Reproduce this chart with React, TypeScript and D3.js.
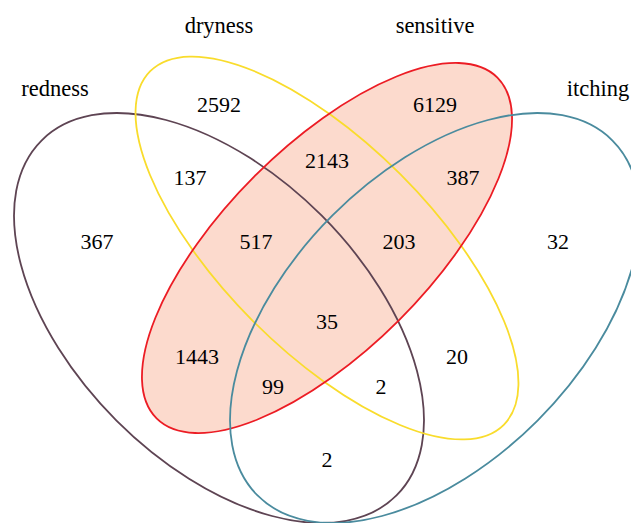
import React, { useEffect, useRef } from 'react';
import * as d3 from 'd3';

// set names and region counts
const setNames = ['redness', 'dryness', 'sensitive', 'itching'];
const setColors = ['#5e4453', '#f9dc2c', '#ec1c24', '#4a8b9e'];

// region keys are membership strings: r, d, s, i
const regionKeys = ['d', 's', 'rd', 'ds', 'si', 'r', 'rds', 'dsi', 'i', 'rdsi', 'rs', 'di', 'rsi', 'rdi', 'ri'];
const regionCounts = [2592, 6129, 137, 2143, 387, 367, 517, 203, 32, 35, 1443, 20, 99, 2, 2];

// layout (pixel space relative to the figure centre)
const ellipses = [
  { cx: -108, cy: 70, rx: 251, ry: 145, rot: 45 },
  { cx: 0, cy: 0, rx: 250, ry: 104, rot: 45 },
  { cx: 0, cy: 0, rx: 241, ry: 102, rot: -45 },
  { cx: 108, cy: 70, rx: 251, ry: 145, rot: -45 },
];
const titlePos = [[-272, -160], [-108, -223], [108, -223], [271, -160]];
const regionPos: Record<string, [number, number]> = {
  d: [-108, -144], s: [108, -144], rd: [-137, -71], ds: [0, -88], si: [136, -71],
  r: [-230, -7], rds: [-71, -7], dsi: [72, -7], i: [231, -7], rdsi: [0, 73],
  rs: [-130, 108], di: [130, 108], rsi: [-54, 138], rdi: [54, 138], ri: [0, 211],
};

const W = 631;
const H = 523;

export default function App() {
  const ref = useRef<SVGSVGElement>(null);

  useEffect(() => {
    if (!ref.current) return;
    const svg = d3.select(ref.current);
    svg.selectAll('*').remove();

    const x = d3.scaleLinear().domain([-327, 304]).range([0, W]);
    const y = d3.scaleLinear().domain([-248, 275]).range([0, H]);

    const g = svg.append('g');

    // sensitive filled first so other outlines sit on top
    g.append('ellipse')
      .attr('cx', x(ellipses[2].cx))
      .attr('cy', y(ellipses[2].cy))
      .attr('rx', ellipses[2].rx)
      .attr('ry', ellipses[2].ry)
      .attr('transform', `rotate(${ellipses[2].rot},${x(ellipses[2].cx)},${y(ellipses[2].cy)})`)
      .attr('fill', '#fcdacd');

    ellipses.forEach((e, i) => {
      g.append('ellipse')
        .attr('cx', x(e.cx))
        .attr('cy', y(e.cy))
        .attr('rx', e.rx)
        .attr('ry', e.ry)
        .attr('transform', `rotate(${e.rot},${x(e.cx)},${y(e.cy)})`)
        .attr('fill', 'none')
        .attr('stroke', setColors[i])
        .attr('stroke-width', 1.8);
    });

    const font = "'Liberation Serif', 'Times New Roman', serif";

    g.selectAll('text.title')
      .data(setNames)
      .join('text')
      .attr('class', 'title')
      .attr('x', (_, i) => x(titlePos[i][0]))
      .attr('y', (_, i) => y(titlePos[i][1]))
      .attr('text-anchor', 'middle')
      .attr('dominant-baseline', 'central')
      .attr('font-family', font)
      .attr('font-size', 22.5)
      .attr('fill', '#000')
      .text(d => d);

    g.selectAll('text.count')
      .data(regionKeys)
      .join('text')
      .attr('class', 'count')
      .attr('x', d => x(regionPos[d][0]))
      .attr('y', d => y(regionPos[d][1]))
      .attr('text-anchor', 'middle')
      .attr('dominant-baseline', 'central')
      .attr('font-family', font)
      .attr('font-size', 22)
      .attr('fill', '#000')
      .text((_, i) => String(regionCounts[i]));
  }, []);

  return (
    <svg
      ref={ref}
      width={W}
      height={H}
      style={{ position: 'absolute', left: 0, top: 0, background: '#fff' }}
    />
  );
}
